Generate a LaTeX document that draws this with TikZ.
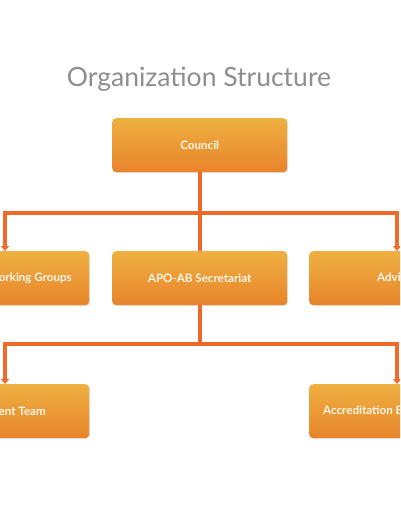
\documentclass[tikz,border=0pt]{standalone}
\usepackage{fontspec}
\setmainfont{Lato}
\usetikzlibrary{arrows.meta,shadows}
\definecolor{lineor}{HTML}{F06B2A}
\definecolor{boxtop}{HTML}{EFB041}
\definecolor{boxbot}{HTML}{E8842B}
\definecolor{titlegray}{HTML}{8E8E8E}
\definecolor{labelwhite}{HTML}{FFF8EC}
\tikzset{
 orgbox/.style={rectangle, rounded corners=4pt, top color=boxtop, bottom color=boxbot, minimum height=54pt, inner sep=0pt, anchor=north west, drop shadow={opacity=0.22, shadow xshift=0.8pt, shadow yshift=-0.8pt}},
 boxlabel/.style={text=labelwhite, inner sep=0pt, font=\bfseries\fontsize{11.6}{13}\selectfont},
 link/.style={draw=lineor, line width=3.3pt},
 arr/.style={link, -{Triangle[length=5pt,width=8pt]}}
}
\begin{document}
\begin{tikzpicture}[x=1pt,y=-1pt]
\useasboundingbox (0,0) rectangle (400,516);
\clip (0,0) rectangle (400,516);
\fill[white] (0,0) rectangle (400,516);
\node[text=titlegray, font=\fontsize{26.5}{30}\selectfont] (title) at (199,79) {Organization Structure};

\node[orgbox, minimum width=175pt] (council) at (112,118) {};
\node[boxlabel] (councilt) at (council.center) {Council};

\node[orgbox, minimum width=179pt] (wg) at (-90,251) {};
\node[boxlabel, anchor=east] (wgt) at (72,278) {Working Groups};
\node[orgbox, minimum width=175pt] (apo) at (112,251) {};
\node[boxlabel] (apot) at (apo.center) {APO-AB Secretariat};
\node[orgbox, minimum width=175pt] (adv) at (309,251) {};
\node[boxlabel, anchor=west] (advt) at (377,278) {Advisory Board};

\node[orgbox, minimum width=179pt] (at) at (-90,384) {};
\node[boxlabel, anchor=east] (att) at (46,411) {Assessment Team};
\node[orgbox, minimum width=175pt] (ab) at (309,384) {};
\node[boxlabel, anchor=west] (abt) at (323,411) {Accreditation Body};

\coordinate (bus1) at (200,213);
\coordinate (xl) at (5,213);
\coordinate (xr) at (397,213);
\coordinate (bus2) at (200,344);

\draw[link] (council.south -| bus1) -- (apo.north -| bus1);
\draw[arr] (bus1) -| (xl |- wg.north);
\draw[arr] (bus1) -| (xr |- adv.north);
\draw[link] (apo.south -| bus2) -- (bus2);
\draw[arr] (bus2) -| (xl |- at.north);
\draw[arr] (bus2) -| (xr |- ab.north);
\end{tikzpicture}
\end{document}
